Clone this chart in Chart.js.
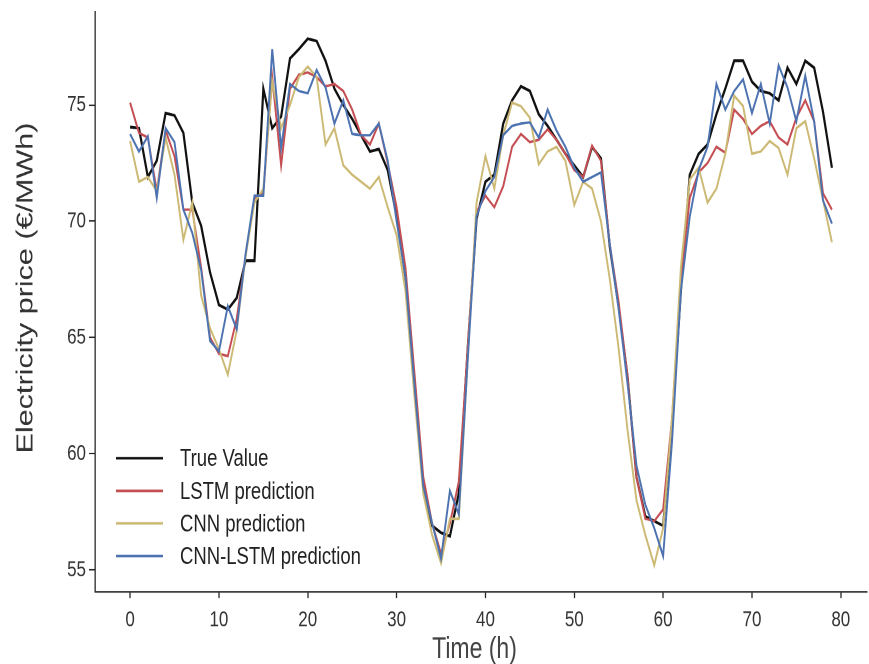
<!DOCTYPE html>
<html>
<head>
<meta charset="utf-8">
<title>Electricity price forecast</title>
<script src="https://cdn.jsdelivr.net/npm/chart.js@4.4.1/dist/chart.umd.min.js"></script>
<style>
  html, body { margin: 0; padding: 0; background: #fff; }
  #wrap { width: 869px; height: 664px; overflow: hidden; }
  /* the figure is laid out on a shorter canvas and stretched vertically, so text comes out tall and narrow */
  #priceChart { transform-origin: 0 0; }
</style>
</head>
<body>
<div id="wrap"><canvas id="priceChart" width="869" height="511"></canvas></div>
<script>
// hours 0..79
const hours = Array.from({ length: 80 }, (_, i) => i);

const xTickValues = [0, 10, 20, 30, 40, 50, 60, 70, 80];
const yTickValues = [55, 60, 65, 70, 75];

const xTitle = "Time (h)";
const yTitle = "Electricity price (€/MWh)";
const seriesLabels = ["True Value", "LSTM prediction", "CNN prediction", "CNN-LSTM prediction"];

const trueValue = [
  74.05, 74.0, 71.9, 72.6, 74.65, 74.55, 73.8, 70.8, 69.8, 67.8,
  66.4, 66.2, 66.7, 68.3, 68.3, 75.7, 74.0, 74.5, 77.0, 77.4,
  77.85, 77.75, 76.9, 75.7, 75.0, 74.4, 73.7, 73.0, 73.1, 72.2,
  70.2, 67.6, 63.2, 58.6, 56.9, 56.6, 56.45, 58.3, 64.5, 70.1,
  71.7, 72.0, 74.2, 75.2, 75.8, 75.6, 74.6, 74.1, 73.5, 72.9,
  72.4, 71.9, 73.2, 72.7, 68.9, 66.3, 63.3, 59.0, 57.3, 57.1,
  56.9, 61.2, 67.0, 72.0, 72.9, 73.3, 74.6, 75.7, 76.9, 76.9,
  76.0, 75.6, 75.5, 75.2, 76.6, 75.9, 76.9, 76.6, 74.7, 72.3
];

const lstmPred = [
  75.1, 73.8, 73.6, 71.3, 73.9, 72.8, 70.5, 70.5, 68.0, 65.0,
  64.3, 64.2, 65.8, 68.5, 71.0, 71.2, 76.2, 72.4, 75.7, 76.3,
  76.4, 76.2, 75.8, 75.9, 75.6, 74.8, 73.7, 73.3, 74.2, 72.5,
  70.6, 68.0, 63.5, 59.0, 57.0, 55.7, 57.0, 58.8, 64.5, 70.4,
  71.1, 70.6, 71.5, 73.2, 73.75, 73.4, 73.5, 73.95, 73.5, 72.9,
  72.2, 71.9, 73.25, 72.6, 69.0, 66.5, 63.3, 59.0, 57.2, 57.1,
  57.6, 61.5, 67.5, 71.0, 72.1, 72.5, 73.2, 72.95, 74.8, 74.4,
  73.75, 74.1, 74.3, 73.6, 73.3, 74.45, 75.2, 74.3, 71.2, 70.5
];

const cnnPred = [
  73.45, 71.7, 71.9, 71.3, 73.6, 72.0, 69.2, 70.8, 66.8, 65.4,
  64.5, 63.4, 65.3, 68.5, 70.8, 71.4, 76.0, 74.0, 75.0, 76.2,
  76.65, 76.2, 73.3, 74.0, 72.4, 72.0, 71.7, 71.4, 71.9, 70.6,
  69.4, 67.0, 62.5, 58.3, 56.5, 55.3, 57.2, 57.2, 64.0, 70.8,
  72.8, 71.4, 73.7, 75.1, 74.95, 74.45, 72.45, 73.0, 73.2, 72.6,
  70.7, 71.7, 71.4, 70.0, 67.5, 64.5, 61.0, 58.0, 56.5, 55.2,
  56.8, 61.5, 68.0, 71.8, 72.3, 70.8, 71.4, 72.9, 75.4, 74.95,
  72.9, 73.0, 73.45, 73.15, 72.0, 74.0, 74.3, 72.7, 70.9, 69.1
];

const cnnLstmPred = [
  73.75, 73.0, 73.65, 71.0, 74.0, 73.4, 70.5, 69.5, 67.9, 64.85,
  64.4, 66.35, 65.35, 68.6, 71.1, 71.1, 77.4, 73.15, 75.9, 75.6,
  75.5, 76.5, 75.75, 74.2, 75.2, 73.75, 73.7, 73.7, 74.2, 72.6,
  70.0, 67.6, 63.0, 58.6, 57.0, 55.5, 58.4, 57.4, 64.0, 70.2,
  71.3, 71.9, 73.7, 74.1, 74.2, 74.25, 73.6, 74.8, 73.9, 73.2,
  72.3, 71.7, 71.9, 72.1, 69.0, 66.2, 63.0, 59.5, 57.8, 56.8,
  55.6, 60.5, 67.0, 70.2, 72.2, 73.2, 75.9, 74.8, 75.6, 76.1,
  74.65, 75.9, 74.2, 76.7, 75.75, 74.3, 76.25, 74.3, 70.9, 69.9
];

const seriesColors = ["#111111", "#c44e52", "#ccb974", "#4c72b0"];

const FONT = "'Liberation Sans', Arial, Helvetica, sans-serif";
const AXIS_COLOR = "#262626";
const STRETCH = 664 / 511;

const canvas = document.getElementById("priceChart");
canvas.style.transform = "scaleY(" + STRETCH + ")";

function toPoints(values) {
  return values.map((v, i) => ({ x: hours[i], y: v }));
}

// axis titles, placed relative to the plot area
const axisTitles = {
  id: "axisTitles",
  afterDraw(chart) {
    const { ctx, chartArea } = chart;
    const midX = (chartArea.left + chartArea.right) / 2;
    const midY = (chartArea.top + chartArea.bottom) / 2;
    ctx.save();
    ctx.textAlign = "center";
    ctx.textBaseline = "middle";

    ctx.fillStyle = "#444";
    ctx.font = "23px " + FONT;
    ctx.fillText(xTitle, midX - 6.5, chartArea.bottom + 44.6);

    ctx.fillStyle = "#333";
    ctx.font = "23.5px " + FONT;
    ctx.translate(26, midY - 10.8);
    ctx.rotate(-Math.PI / 2);
    ctx.fillText(yTitle, 0, 0);
    ctx.restore();
  }
};

// legend drawn inside the plot, lower left, without a frame
const innerLegend = {
  id: "innerLegend",
  afterDraw(chart) {
    const { ctx, chartArea } = chart;
    const x0 = chartArea.left + 21;
    const y0 = chartArea.bottom - 103;
    const rowGap = 25.1;
    ctx.save();
    ctx.font = "18.5px " + FONT;
    ctx.textBaseline = "middle";
    ctx.fillStyle = "#222";
    chart.data.datasets.forEach((ds, i) => {
      const y = y0 + i * rowGap;
      ctx.strokeStyle = ds.borderColor;
      ctx.lineWidth = 2;
      ctx.beginPath();
      ctx.moveTo(x0, y);
      ctx.lineTo(x0 + 47, y);
      ctx.stroke();
      ctx.fillText(ds.label, x0 + 64, y + 1);
    });
    ctx.restore();
  }
};

const allSeries = [trueValue, lstmPred, cnnPred, cnnLstmPred];

const config = {
  type: "line",
  data: {
    datasets: allSeries.map((vals, i) => ({
      label: seriesLabels[i],
      data: toPoints(vals),
      borderColor: seriesColors[i],
      backgroundColor: seriesColors[i],
      borderWidth: i === 0 ? 2.2 : 1.9,
      pointRadius: 0,
      tension: 0,
      order: allSeries.length - 1 - i   // later series painted on top
    }))
  },
  options: {
    responsive: false,
    devicePixelRatio: 2,
    animation: false,
    events: [],
    layout: { padding: { left: 8, top: 9.2, right: 2, bottom: 0 } },
    scales: {
      x: {
        type: "linear",
        min: -3.95,
        max: 82.95,
        afterBuildTicks: (axis) => { axis.ticks = xTickValues.map(v => ({ value: v })); },
        afterFit: (axis) => {
          axis.height = 55.4;
          axis.paddingLeft = 0;
          axis.paddingRight = 0;
        },
        border: { display: true, color: AXIS_COLOR, width: 1.1 },
        grid: { drawOnChartArea: false, drawTicks: true, tickLength: 4.6, tickColor: AXIS_COLOR, tickWidth: 1.3 },
        ticks: { color: "#333", font: { family: FONT, size: 17 }, padding: 7, maxRotation: 0 }
      },
      y: {
        type: "linear",
        min: 54.05,
        max: 79.0,
        afterBuildTicks: (axis) => { axis.ticks = yTickValues.map(v => ({ value: v })); },
        afterFit: (axis) => {
          axis.width = 87;
          axis.paddingTop = 0;
          axis.paddingBottom = 0;
        },
        border: { display: true, color: AXIS_COLOR, width: 1.3 },
        grid: { drawOnChartArea: false, drawTicks: true, tickLength: 6, tickColor: AXIS_COLOR, tickWidth: 1.1 },
        ticks: { color: "#333", font: { family: FONT, size: 17 }, padding: 3 }
      }
    },
    plugins: {
      legend: { display: false },
      tooltip: { enabled: false }
    }
  },
  plugins: [axisTitles, innerLegend]
};

new Chart(canvas, config);
</script>
</body>
</html>
